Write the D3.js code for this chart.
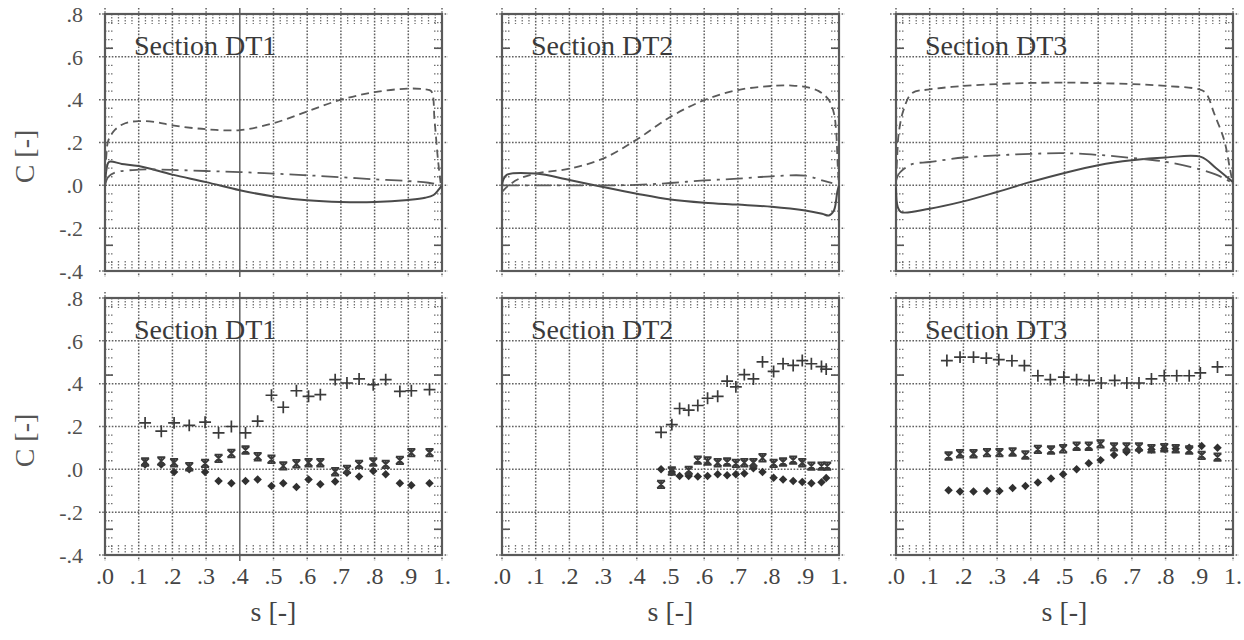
<!DOCTYPE html>
<html>
<head>
<meta charset="utf-8">
<script src="https://cdn.jsdelivr.net/npm/d3@7"></script>
<style>
  body { margin: 0; background: #fff; }
</style>
</head>
<body>
<div id="chart"></div>
<script>
const width = 1244;
const height = 640;

const sections = ["Section DT1", "Section DT2", "Section DT3"];
const xTicks = [0, 0.1, 0.2, 0.3, 0.4, 0.5, 0.6, 0.7, 0.8, 0.9, 1];
const xTickLabels = [".0", ".1", ".2", ".3", ".4", ".5", ".6", ".7", ".8", ".9", "1."];
const yTicks = [0.8, 0.6, 0.4, 0.2, 0, -0.2, -0.4];
const yTickLabels = [".8", ".6", ".4", ".2", ".0", "-.2", "-.4"];

// computed curves (top row): [s, C]
const dt1Dashed = [[0, 0.0], [0.004, 0.14], [0.01, 0.21], [0.03, 0.26], [0.06, 0.29], [0.1, 0.30], [0.15, 0.295], [0.2, 0.28], [0.3, 0.262], [0.4, 0.258], [0.5, 0.29], [0.6, 0.345], [0.7, 0.40], [0.8, 0.435], [0.9, 0.452], [0.95, 0.448], [0.968, 0.44], [0.978, 0.30], [0.988, 0.12], [0.996, 0.01]];
const dt1Solid = [[0, 0.0], [0.005, 0.08], [0.012, 0.11], [0.05, 0.10], [0.1, 0.09], [0.2, 0.05], [0.3, 0.015], [0.4, -0.023], [0.5, -0.052], [0.6, -0.07], [0.7, -0.078], [0.8, -0.078], [0.9, -0.068], [0.95, -0.058], [0.975, -0.045], [0.99, -0.02], [1.0, 0.0]];
const dt1DashDot = [[0, 0.0], [0.01, 0.04], [0.03, 0.06], [0.1, 0.073], [0.2, 0.072], [0.3, 0.067], [0.4, 0.062], [0.5, 0.055], [0.6, 0.047], [0.7, 0.038], [0.8, 0.028], [0.9, 0.02], [0.96, 0.012], [1.0, 0.0]];

const dt2Dashed = [[0, -0.03], [0.02, 0.0], [0.05, 0.03], [0.1, 0.055], [0.2, 0.078], [0.3, 0.125], [0.4, 0.214], [0.5, 0.32], [0.6, 0.398], [0.7, 0.445], [0.8, 0.464], [0.86, 0.466], [0.9, 0.46], [0.94, 0.44], [0.97, 0.398], [0.985, 0.336], [0.992, 0.242], [0.996, 0.1], [1.0, 0.0]];
const dt2Solid = [[0, 0.0], [0.005, 0.03], [0.015, 0.05], [0.1, 0.055], [0.2, 0.025], [0.3, -0.008], [0.4, -0.039], [0.5, -0.066], [0.6, -0.081], [0.7, -0.09], [0.8, -0.10], [0.9, -0.118], [0.95, -0.133], [0.97, -0.141], [0.985, -0.117], [0.995, -0.03], [1.0, 0.0]];
const dt2DashDot = [[0, 0.0], [0.1, 0.0], [0.2, 0.0], [0.3, 0.0], [0.4, 0.002], [0.5, 0.011], [0.6, 0.023], [0.7, 0.031], [0.8, 0.042], [0.9, 0.045], [0.95, 0.023], [0.98, 0.01]];

const dt3Dashed = [[0, 0.02], [0.004, 0.15], [0.008, 0.242], [0.022, 0.35], [0.047, 0.43], [0.1, 0.448], [0.2, 0.464], [0.3, 0.473], [0.4, 0.478], [0.5, 0.48], [0.6, 0.477], [0.7, 0.473], [0.8, 0.464], [0.9, 0.448], [0.92, 0.43], [0.944, 0.336], [0.974, 0.21], [0.99, 0.085], [1.0, 0.0]];
const dt3Solid = [[0, -0.01], [0.005, -0.1], [0.015, -0.125], [0.1, -0.109], [0.2, -0.075], [0.3, -0.031], [0.4, 0.016], [0.5, 0.058], [0.6, 0.094], [0.7, 0.117], [0.8, 0.13], [0.905, 0.133], [0.95, 0.08], [1.0, 0.015]];
const dt3DashDot = [[0, 0.02], [0.007, 0.05], [0.022, 0.075], [0.05, 0.1], [0.1, 0.109], [0.2, 0.13], [0.3, 0.14], [0.4, 0.147], [0.5, 0.15], [0.6, 0.142], [0.7, 0.128], [0.8, 0.11], [0.9, 0.075], [0.95, 0.05], [1.0, 0.01]];

// measured points (bottom row): [s, C]
const dt1Plus = [[0.119, 0.217], [0.167, 0.178], [0.205, 0.217], [0.25, 0.205], [0.297, 0.22], [0.337, 0.17], [0.375, 0.2], [0.417, 0.17], [0.453, 0.225], [0.494, 0.346], [0.529, 0.29], [0.568, 0.367], [0.604, 0.341], [0.639, 0.349], [0.683, 0.419], [0.718, 0.403], [0.754, 0.422], [0.796, 0.395], [0.833, 0.419], [0.875, 0.364], [0.909, 0.367], [0.963, 0.372]];
const dt1Star = [[0.119, 0.034], [0.167, 0.039], [0.205, 0.031], [0.25, 0.012], [0.297, 0.028], [0.337, 0.051], [0.375, 0.074], [0.417, 0.09], [0.453, 0.059], [0.494, 0.047], [0.529, 0.016], [0.568, 0.026], [0.604, 0.031], [0.639, 0.031], [0.683, -0.011], [0.718, 0.0], [0.754, 0.023], [0.796, 0.034], [0.833, 0.023], [0.875, 0.042], [0.909, 0.078], [0.963, 0.078]];
const dt1Diamond = [[0.119, 0.023], [0.167, 0.023], [0.205, -0.012], [0.25, 0.0], [0.297, -0.012], [0.337, -0.054], [0.375, -0.065], [0.417, -0.054], [0.453, -0.047], [0.494, -0.078], [0.529, -0.065], [0.568, -0.082], [0.604, -0.047], [0.639, -0.07], [0.683, -0.057], [0.718, -0.016], [0.754, -0.034], [0.796, -0.008], [0.833, -0.023], [0.875, -0.065], [0.909, -0.074], [0.963, -0.065]];

const dt2Plus = [[0.472, 0.173], [0.504, 0.209], [0.527, 0.284], [0.554, 0.276], [0.581, 0.298], [0.61, 0.332], [0.64, 0.341], [0.668, 0.412], [0.694, 0.385], [0.719, 0.442], [0.746, 0.422], [0.773, 0.502], [0.806, 0.457], [0.834, 0.493], [0.864, 0.485], [0.891, 0.508], [0.918, 0.493], [0.948, 0.48], [0.962, 0.468]];
const dt2Star = [[0.472, -0.07], [0.504, -0.008], [0.554, -0.005], [0.581, 0.043], [0.61, 0.039], [0.64, 0.031], [0.668, 0.034], [0.694, 0.028], [0.719, 0.031], [0.746, 0.031], [0.773, 0.054], [0.806, 0.028], [0.834, 0.034], [0.864, 0.043], [0.891, 0.031], [0.918, 0.015], [0.948, 0.015], [0.965, 0.015]];
const dt2Diamond = [[0.472, 0.0], [0.504, -0.012], [0.527, -0.031], [0.554, -0.031], [0.581, -0.034], [0.61, -0.031], [0.64, -0.023], [0.668, -0.028], [0.694, -0.023], [0.719, -0.019], [0.746, 0.005], [0.773, -0.012], [0.806, -0.039], [0.834, -0.047], [0.864, -0.054], [0.891, -0.059], [0.918, -0.065], [0.948, -0.06], [0.962, -0.04]];

const dt3Plus = [[0.151, 0.508], [0.19, 0.524], [0.23, 0.524], [0.268, 0.519], [0.305, 0.512], [0.344, 0.507], [0.381, 0.484], [0.421, 0.437], [0.458, 0.419], [0.498, 0.431], [0.536, 0.419], [0.573, 0.415], [0.609, 0.403], [0.649, 0.415], [0.685, 0.403], [0.721, 0.403], [0.758, 0.422], [0.796, 0.437], [0.833, 0.437], [0.87, 0.437], [0.903, 0.45], [0.954, 0.478]];
const dt3Star = [[0.156, 0.062], [0.19, 0.073], [0.23, 0.073], [0.27, 0.078], [0.307, 0.078], [0.346, 0.081], [0.384, 0.067], [0.421, 0.093], [0.46, 0.09], [0.496, 0.096], [0.536, 0.108], [0.572, 0.108], [0.607, 0.119], [0.647, 0.105], [0.684, 0.105], [0.721, 0.105], [0.758, 0.096], [0.796, 0.101], [0.83, 0.096], [0.87, 0.09], [0.907, 0.065], [0.954, 0.057]];
const dt3Diamond = [[0.156, -0.098], [0.19, -0.104], [0.23, -0.104], [0.27, -0.101], [0.307, -0.101], [0.346, -0.087], [0.384, -0.078], [0.421, -0.062], [0.46, -0.043], [0.496, -0.023], [0.536, 0.0], [0.572, 0.028], [0.607, 0.043], [0.647, 0.067], [0.684, 0.081], [0.721, 0.09], [0.758, 0.093], [0.796, 0.096], [0.83, 0.096], [0.87, 0.101], [0.907, 0.109], [0.954, 0.101]];

const topCurves = [
    [dt1Solid, dt1Dashed, dt1DashDot],
    [dt2Solid, dt2Dashed, dt2DashDot],
    [dt3Solid, dt3Dashed, dt3DashDot]
];
const bottomPoints = [
    [dt1Plus, dt1Star, dt1Diamond],
    [dt2Plus, dt2Star, dt2Diamond],
    [dt3Plus, dt3Star, dt3Diamond]
];

const colX = [105, 502, 896];
const rowY = [14, 298];
const pw = 337;
const ph = 257;
const curveDash = [null, "8,5", "17,6,3,6"];
const serif = "Liberation Serif";

const svg = d3.select("#chart").append("svg")
    .attr("width", width)
    .attr("height", height)
    .attr("font-family", serif)
    .style("background", "#fff");

const line = (x, y) => d3.line()
    .x(d => x(d[0]))
    .y(d => y(d[1]))
    .curve(d3.curveCatmullRom.alpha(0.5));

const starPath = "M-4,-3.8L4,-3.8M-4,3.8L4,3.8M-3.8,-3.8L3.8,3.8M3.8,-3.8L-3.8,3.8M0,-3.8L0,3.8";

rowY.forEach((y0, r) => {
    colX.forEach((x0, c) => {
        const x = d3.scaleLinear().domain([0, 1]).range([x0, x0 + pw]);
        const y = d3.scaleLinear().domain([-0.4, 0.8]).range([y0 + ph, y0]);
        const g = svg.append("g");

        // dotted grid, running a little past the frame
        g.append("g").selectAll("line").data(xTicks).join("line")
            .attr("x1", d => x(d)).attr("x2", d => x(d))
            .attr("y1", y0 - 6).attr("y2", y0 + ph + 6)
            .attr("stroke", "#606060").attr("stroke-width", 1.5)
            .attr("stroke-dasharray", (d) => (c === 0 && d === 0.4) ? null : "1.6,1.6");
        g.append("g").selectAll("line").data(yTicks).join("line")
            .attr("x1", x0 - 6).attr("x2", x0 + pw + 6)
            .attr("y1", d => y(d)).attr("y2", d => y(d))
            .attr("stroke", "#606060").attr("stroke-width", 1.5)
            .attr("stroke-dasharray", "1.6,1.6");

        // minor ticks inside the frame
        const minorS = d3.range(51).map(i => i / 50).filter(d => Math.round(d * 50) % 5 !== 0);
        const minorC = d3.range(31).map(i => -0.4 + i * 0.04).filter(d => Math.round(d * 100) % 20 !== 0);
        [[y0, y0 + 10], [y0 + ph - 10, y0 + ph]].forEach(([a, b]) => {
            g.append("g").selectAll("line").data(minorS).join("line")
                .attr("x1", d => x(d)).attr("x2", d => x(d))
                .attr("y1", a).attr("y2", b)
                .attr("stroke", "#707070").attr("stroke-width", 1.3)
                .attr("stroke-dasharray", "1.5,1.5");
        });
        [[x0, x0 + 8], [x0 + pw - 8, x0 + pw]].forEach(([a, b]) => {
            g.append("g").selectAll("line").data(minorC).join("line")
                .attr("x1", a).attr("x2", b)
                .attr("y1", d => y(d)).attr("y2", d => y(d))
                .attr("stroke", "#707070").attr("stroke-width", 1.3)
                .attr("stroke-dasharray", "1.5,1.5");
        });
        const solidMinor = r === 0 ? [0.64, -0.28] : [0.44, -0.28];
        [[x0, x0 + 8], [x0 + pw - 8, x0 + pw]].forEach(([a, b]) => {
            g.append("g").selectAll("line").data(solidMinor).join("line")
                .attr("x1", a).attr("x2", b)
                .attr("y1", d => y(d)).attr("y2", d => y(d))
                .attr("stroke", "#555").attr("stroke-width", 1.6);
        });

        // frame
        g.append("rect")
            .attr("x", x0).attr("y", y0)
            .attr("width", pw).attr("height", ph)
            .attr("fill", "none")
            .attr("stroke", "#5a5a5a")
            .attr("stroke-width", 2.2);

        g.append("text")
            .attr("x", x0 + 29)
            .attr("y", y0 + 41)
            .attr("font-family", serif)
            .attr("font-size", 28)
            .attr("fill", "#3a3a3a")
            .text(sections[c]);

        if (r === 0) {
            topCurves[c].forEach((pts, i) => {
                g.append("path")
                    .datum(pts)
                    .attr("d", line(x, y))
                    .attr("fill", "none")
                    .attr("stroke", i === 0 ? "#4a4a4a" : "#5a5a5a")
                    .attr("stroke-width", i === 0 ? 2 : 1.8)
                    .attr("stroke-dasharray", curveDash[i]);
            });
        } else {
            const [plus, star, diamond] = bottomPoints[c];
            g.append("g").selectAll("path").data(diamond).join("path")
                .attr("transform", d => `translate(${x(d[0])},${y(d[1])}) rotate(45)`)
                .attr("d", d3.symbol().type(d3.symbolSquare).size(36))
                .attr("fill", "#303030");
            g.append("g").selectAll("path").data(star).join("path")
                .attr("transform", d => `translate(${x(d[0])},${y(d[1])})`)
                .attr("d", starPath)
                .attr("fill", "none")
                .attr("stroke", "#3a3a3a")
                .attr("stroke-width", 1.8);
            g.append("g").selectAll("path").data(plus).join("path")
                .attr("transform", d => `translate(${x(d[0])},${y(d[1])})`)
                .attr("d", d3.symbol().type(d3.symbolPlus).size(48))
                .attr("fill", "none")
                .attr("stroke", "#3a3a3a")
                .attr("stroke-width", 1.7);

            g.append("g").selectAll("text").data(xTicks).join("text")
                .attr("x", d => x(d))
                .attr("y", y0 + ph + 29)
                .attr("text-anchor", "middle")
                .attr("font-family", serif)
                .attr("font-size", 24)
                .attr("fill", "#444")
                .text((d, i) => xTickLabels[i]);

            g.append("text")
                .attr("x", x0 + pw / 2)
                .attr("y", y0 + ph + 66)
                .attr("text-anchor", "middle")
                .attr("font-family", serif)
                .attr("font-size", 28)
                .attr("fill", "#444")
                .text("s [-]");
        }

        if (c === 0) {
            g.append("g").selectAll("text").data(yTicks).join("text")
                .attr("x", x0 - 22)
                .attr("y", d => y(d))
                .attr("dy", "0.35em")
                .attr("text-anchor", "end")
                .attr("font-family", serif)
                .attr("font-size", 22)
                .attr("fill", "#505050")
                .text((d, i) => yTickLabels[i]);

            g.append("text")
                .attr("transform", `translate(34,${y0 + ph / 2 + 14}) rotate(-90)`)
                .attr("text-anchor", "middle")
                .attr("font-family", serif)
                .attr("font-size", 28)
                .attr("fill", "#555")
                .text("C [-]");
        }
    });
});
</script>
</body>
</html>
